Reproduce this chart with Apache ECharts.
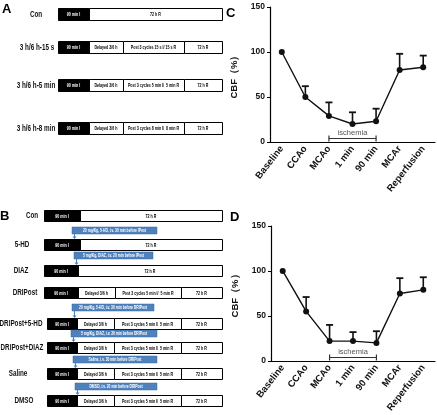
<!DOCTYPE html>
<html><head><meta charset="utf-8">
<script src="https://cdn.jsdelivr.net/npm/echarts@6/dist/echarts.min.js"></script>
<style>html,body{margin:0;padding:0;background:#fff}#c{width:437px;height:415px}</style>
</head><body><div id="c"></div>
<script>
// ---- chart data ----
const categories = ['Baseline', 'CCAo', 'MCAo', '1 min', '90 min', 'MCAr', 'Reperfusion'];
const cbfC = [100, 50, 29, 20, 23, 80, 83];
const errC = [0, 12, 15, 13, 14, 18, 13];
const cbfD = [100, 55, 22, 22, 20, 75, 79];
const errD = [0, 16, 18, 10, 13, 17, 14];
const yTicks = [0, 50, 100, 150];
const ischemiaSpan = ['MCAo', '90 min'];
const ischemiaLabel = 'ischemia';
const yName = 'CBF（%）';

// ---- protocol texts ----
const groupsA = ['Con', '3 h/6 h-15 s', '3 h/6 h-5 min', '3 h/6 h-8 min'];
const segsA = [
  ['90 min I', '72 h R'],
  ['90 min I', 'Delayed 3/6 h', 'Post 3 cycles 15 s I/ 15 s R', '72 h R'],
  ['90 min I', 'Delayed 3/6 h', 'Post 3 cycles 5 min I/  5 min R', '72 h R'],
  ['90 min I', 'Delayed 3/6 h', 'Post 3 cycles 8 min I/  8 min R', '72 h R']
];
const groupsB = ['Con', '5-HD', 'DIAZ', 'DRIPost', 'DRIPost+5-HD', 'DRIPost+DIAZ', 'Saline', 'DMSO'];
const segsB = [
  ['90 min I', '72 h R'],
  ['90 min I', '72 h R'],
  ['90 min I', '72 h R'],
  ['90 min I', 'Delayed 3/6 h', 'Post 3 cycles 5 min I/  5 min R', '72 h R'],
  ['90 min I', 'Delayed 3/6 h', 'Post 3 cycles 5 min I/  5 min R', '72 h R'],
  ['90 min I', 'Delayed 3/6 h', 'Post 3 cycles 5 min I/  5 min R', '72 h R'],
  ['90 min I', 'Delayed 3/6 h', 'Post 3 cycles 5 min I/  5 min R', '72 h R'],
  ['90 min I', 'Delayed 3/6 h', 'Post 3 cycles 5 min I/  5 min R', '72 h R']
];
const notesB = [null,
  '20 mg/Kg, 5-HD, i.v. 30 min before IPost',
  '5 mg/Kg, DIAZ, i.v. 20 min before IPost',
  null,
  '20 mg/Kg, 5-HD, i.v. 30 min before DRIPost',
  '5 mg/Kg, DIAZ, i.v. 20 min before DRIPost',
  'Saline, i.v. 30 min before DRIPost',
  'DMSO, i.v. 20 min before DRIPost'];

// ---- layout (positions / styles) ----
const FONT = "'Liberation Sans',Arial,sans-serif";
const layoutA = {
  rowTop: [8, 41, 79, 122], h: 12, labelX: [36, 37, 36, 36],
  full: [58, 89, 222], split: [58, 89, 123, 184, 222]
};
const layoutB = {
  rowTop: [210, 239, 265, 287, 318, 342, 368, 395], h: 11,
  labelX: [32, 22, 21, 25, 21, 22, 18, 24],
  xs: [[44, 80, 222], [44, 80, 222], [44, 78, 222], [44, 78, 115, 181, 222],
       [47, 77, 114, 181, 222], [47, 77, 114, 181, 222], [47, 77, 114, 181, 222], [47, 77, 114, 181, 222]],
  notes: [null, [72, 227, 85], [74, 252, 79], null, [72, 304, 82], [71, 330, 86], [73, 356, 84], [75, 383, 82]]
};

const graphics = [];
function box(x0, x1, y, h, black, txt) {
  graphics.push({type: 'rect', shape: {x: x0 + 0.5, y: y + 0.5, width: x1 - x0, height: h},
    style: {fill: black ? '#000' : '#fff', stroke: '#000', lineWidth: 1}, z: 10});
  graphics.push({type: 'text', x: (x0 + x1) / 2, y: y + h / 2 + 0.8, z: 11, scaleX: 0.72,
    style: {text: txt, fill: black ? '#fff' : '#000', fontSize: 5, fontWeight: 'bold', fontFamily: FONT,
      align: 'center', verticalAlign: 'middle'}});
}
function label(x, y, txt) {
  graphics.push({type: 'text', x: x, y: y, z: 11, scaleX: 0.7,
    style: {text: txt, fill: '#111', fontSize: 9, fontWeight: 'bold', fontFamily: FONT,
      align: 'center', verticalAlign: 'middle'}});
}
// Panel A
graphics.push({type: 'text', x: 2, y: 9, style: {text: 'A', fontSize: 13, fontWeight: 'bold', fontFamily: FONT, fill: '#000', verticalAlign: 'middle'}});
groupsA.forEach((g, i) => {
  const y = layoutA.rowTop[i];
  label(layoutA.labelX[i], y + layoutA.h / 2 + 0.5, g);
  const xs = segsA[i].length === 2 ? layoutA.full : layoutA.split;
  segsA[i].forEach((s, j) => box(xs[j], xs[j + 1], y, layoutA.h, j === 0, s));
});
// Panel B
graphics.push({type: 'text', x: 0, y: 216, style: {text: 'B', fontSize: 13, fontWeight: 'bold', fontFamily: FONT, fill: '#000', verticalAlign: 'middle'}});
groupsB.forEach((g, i) => {
  const y = layoutB.rowTop[i];
  label(layoutB.labelX[i], y + layoutB.h / 2 + 0.5, g);
  const xs = layoutB.xs[i];
  segsB[i].forEach((s, j) => box(xs[j], xs[j + 1], y, layoutB.h, j === 0, s));
  const n = layoutB.notes[i];
  if (n && notesB[i]) {
    const [nx, ny, nw] = n;
    graphics.push({type: 'rect', shape: {x: nx, y: ny, width: nw, height: 7}, style: {fill: '#4f81bd', stroke: '#3a6aa3', lineWidth: 0.5}, z: 12});
    graphics.push({type: 'text', x: nx + nw / 2, y: ny + 3.9, z: 13, scaleX: 0.7,
      style: {text: notesB[i], fill: '#fff', fontSize: 4.8, fontWeight: 'bold', fontFamily: FONT, align: 'center', verticalAlign: 'middle'}});
    const ax = nx + 2;
    graphics.push({type: 'line', shape: {x1: ax + 0.5, y1: ny + 7, x2: ax + 0.5, y2: y - 1}, style: {stroke: '#4f81bd', lineWidth: 1}, z: 12});
    graphics.push({type: 'polygon', shape: {points: [[ax - 1.5, y - 2.5], [ax + 2.5, y - 2.5], [ax + 0.5, y]]}, style: {fill: '#4f81bd'}, z: 12});
  }
});
// Panel letters C, D
graphics.push({type: 'text', x: 226, y: 13, style: {text: 'C', fontSize: 13, fontWeight: 'bold', fontFamily: FONT, fill: '#000', verticalAlign: 'middle'}});
graphics.push({type: 'text', x: 230, y: 217, style: {text: 'D', fontSize: 13, fontWeight: 'bold', fontFamily: FONT, fill: '#000', verticalAlign: 'middle'}});

const grids = [
  {left: 270, top: 7, width: 165, height: 135},
  {left: 271, top: 226, width: 164, height: 135}
];

function xAxis(gi) {
  return {type: 'category', gridIndex: gi, data: categories, boundaryGap: true,
    axisLine: {lineStyle: {color: '#000', width: 1.2}},
    axisTick: {alignWithLabel: true, length: 3, lineStyle: {color: '#000', width: 1}},
    axisLabel: {rotate: 52, margin: 5, fontSize: 9.5, fontWeight: 'bold', color: '#111', fontFamily: FONT, interval: 0}};
}
function yAxis(gi) {
  return {type: 'value', gridIndex: gi, min: yTicks[0], max: yTicks[yTicks.length - 1], interval: yTicks[1] - yTicks[0],
    name: yName, nameLocation: 'middle', nameGap: 31, nameRotate: 90,
    nameTextStyle: {fontSize: 9.5, fontWeight: 'bold', color: '#111', fontFamily: FONT},
    axisLine: {show: true, lineStyle: {color: '#000', width: 1.2}},
    axisTick: {show: true, length: 3, lineStyle: {color: '#000'}},
    splitLine: {show: false},
    axisLabel: {fontSize: 8.5, fontWeight: 'bold', color: '#111', margin: 5, fontFamily: FONT}};
}

function errSeries(gi, vals, errs) {
  return {type: 'custom', xAxisIndex: gi, yAxisIndex: gi, z: 3,
    data: categories.map((c, i) => [i, vals[i], vals[i] + errs[i]]),
    encode: {x: 0, y: [1, 2]},
    renderItem: function (params, api) {
      const i = api.value(0);
      if (api.value(2) <= api.value(1)) return null;
      const p0 = api.coord([i, api.value(1)]);
      const p1 = api.coord([i, api.value(2)]);
      return {type: 'group', children: [
        {type: 'line', shape: {x1: p0[0], y1: p0[1], x2: p1[0], y2: p1[1]}, style: {stroke: '#111', lineWidth: 1.6}},
        {type: 'line', shape: {x1: p1[0] - 3.5, y1: p1[1], x2: p1[0] + 3.5, y2: p1[1]}, style: {stroke: '#111', lineWidth: 1.8}}
      ]};
    }};
}
function bracketSeries(gi, yv) {
  const i0 = categories.indexOf(ischemiaSpan[0]), i1 = categories.indexOf(ischemiaSpan[1]);
  return {type: 'custom', xAxisIndex: gi, yAxisIndex: gi, z: 4,
    data: [[i0, i1, yv]], encode: {x: [0, 1], y: 2},
    renderItem: function (params, api) {
      const a = api.coord([api.value(0), api.value(2)]);
      const b = api.coord([api.value(1), api.value(2)]);
      const y = Math.round(a[1]) + 0.5;
      return {type: 'group', children: [
        {type: 'line', shape: {x1: a[0], y1: y, x2: b[0], y2: y}, style: {stroke: '#333', lineWidth: 1.2}},
        {type: 'line', shape: {x1: a[0], y1: y - 3, x2: a[0], y2: y + 3}, style: {stroke: '#333', lineWidth: 1.2}},
        {type: 'line', shape: {x1: b[0], y1: y - 3, x2: b[0], y2: y + 3}, style: {stroke: '#333', lineWidth: 1.2}},
        {type: 'text', x: (a[0] + b[0]) / 2, y: y - 1.5, style: {text: ischemiaLabel, fill: '#555', fontSize: 7.5, fontFamily: FONT, align: 'center', verticalAlign: 'bottom'}}
      ]};
    }};
}
function lineSeries(gi, vals) {
  return {type: 'line', xAxisIndex: gi, yAxisIndex: gi, data: vals, z: 5,
    symbol: 'circle', symbolSize: 6, itemStyle: {color: '#111'},
    lineStyle: {color: '#111', width: 1.4}, animation: false};
}

const chart = echarts.init(document.getElementById('c'), null, {renderer: 'canvas'});
chart.setOption({
  animation: false,
  grid: grids,
  xAxis: [xAxis(0), xAxis(1)],
  yAxis: [yAxis(0), yAxis(1)],
  series: [errSeries(0, cbfC, errC), bracketSeries(0, 5), lineSeries(0, cbfC),
           errSeries(1, cbfD, errD), bracketSeries(1, 4), lineSeries(1, cbfD)],
  graphic: graphics
});
</script></body></html>
